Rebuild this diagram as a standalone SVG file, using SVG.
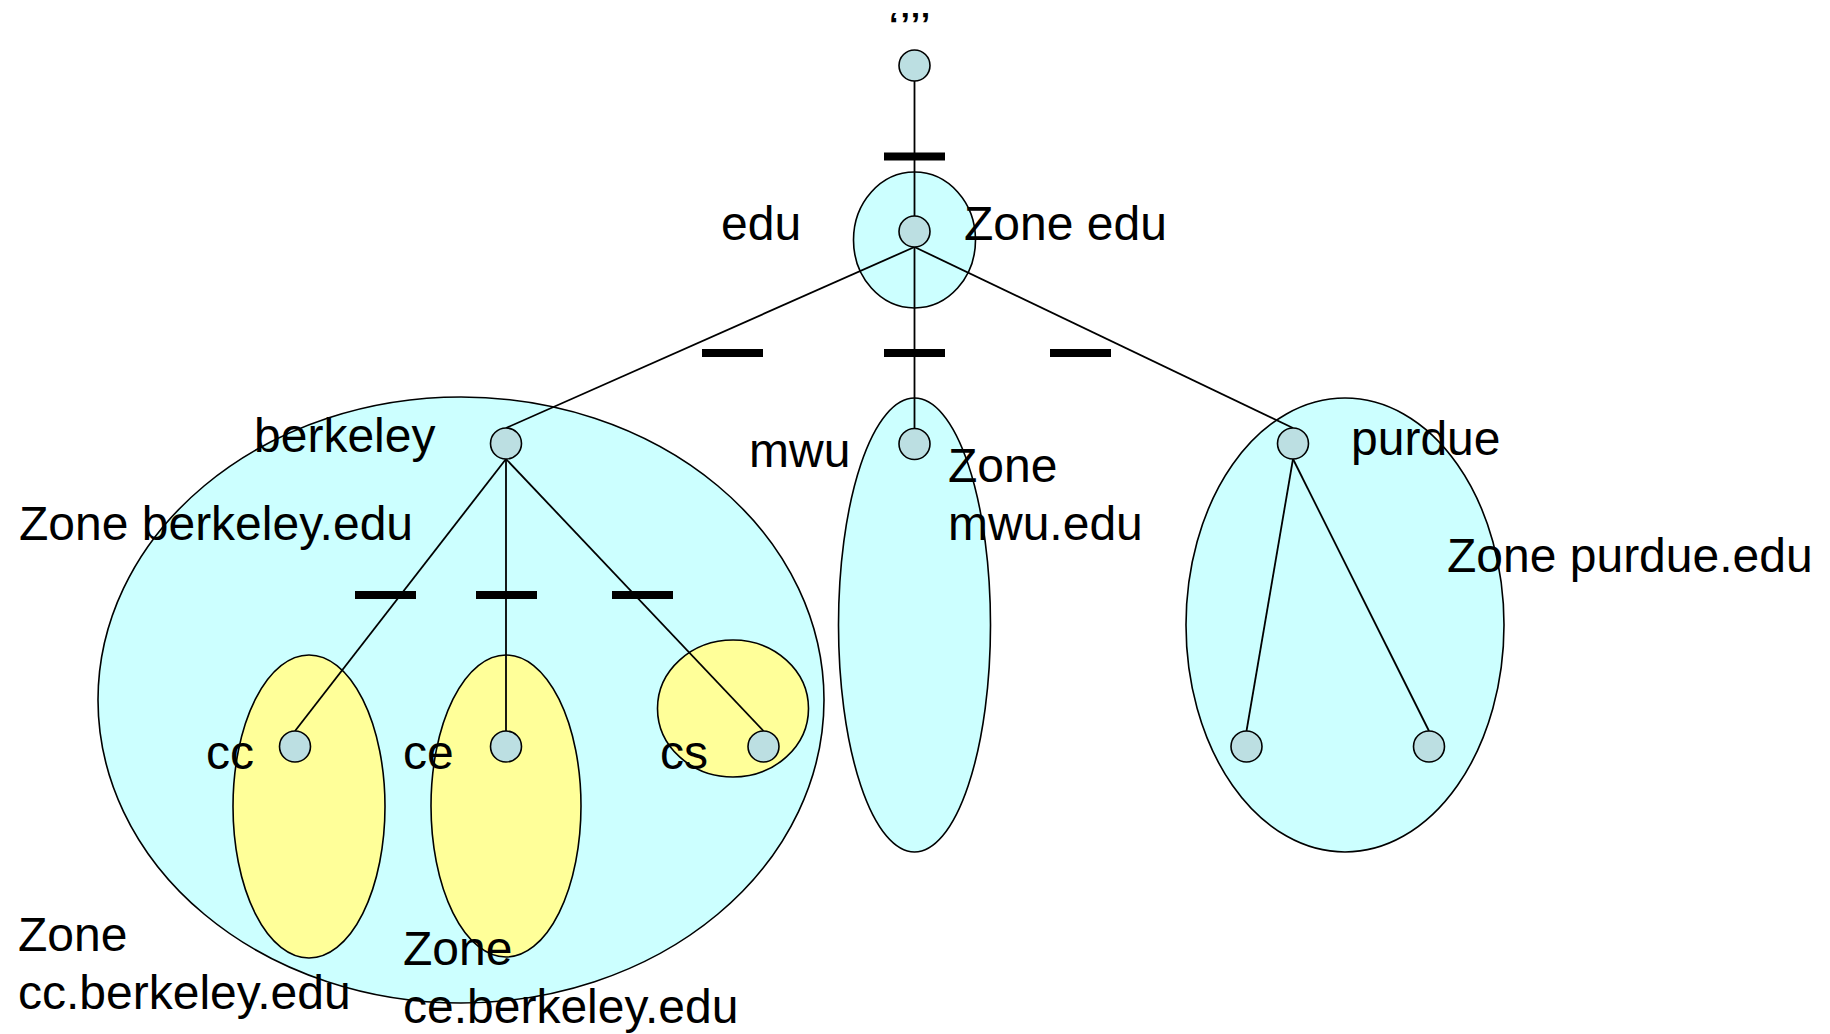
<svg xmlns="http://www.w3.org/2000/svg" width="1830" height="1034" viewBox="0 0 1830 1034">
  <style>
    .zone { fill: #CCFFFF; stroke: #000; stroke-width: 1.6; }
    .subzone { fill: #FFFF99; stroke: #000; stroke-width: 1.6; }
    .node { fill: #BCDFE2; stroke: #000; stroke-width: 1.6; }
    .edge { stroke: #000; stroke-width: 1.8; fill: none; }
    .cut { fill: #000; }
    text { font-family: "Liberation Sans", Arial, sans-serif; font-size: 48px; fill: #000; }
    .quote { font-size: 34px; font-weight: bold; letter-spacing: 2px; }
  </style>
  <rect width="1830" height="1034" fill="#fff"/>

  <!-- zones -->
  <g id="zone-berkeley"><ellipse class="zone" cx="461" cy="700" rx="363" ry="303"/></g>
  <g id="zone-cc"><ellipse class="subzone" cx="309" cy="806.5" rx="76" ry="151.5"/></g>
  <g id="zone-ce"><ellipse class="subzone" cx="506" cy="806" rx="75" ry="151"/></g>
  <g id="zone-cs"><ellipse class="subzone" cx="733" cy="708.5" rx="75.5" ry="68.5"/></g>
  <g id="zone-edu"><ellipse class="zone" cx="914.5" cy="240" rx="61" ry="68"/></g>
  <g id="zone-mwu"><ellipse class="zone" cx="914.5" cy="625" rx="76" ry="227"/></g>
  <g id="zone-purdue"><ellipse class="zone" cx="1345" cy="625" rx="159" ry="227"/></g>

  <!-- connectors -->
  <g id="connectors">
    <line class="edge" x1="914.5" y1="81" x2="914.5" y2="216"/>
    <line class="edge" x1="914.5" y1="247" x2="506" y2="428"/>
    <line class="edge" x1="914.5" y1="247" x2="914.5" y2="428"/>
    <line class="edge" x1="914.5" y1="247" x2="1293" y2="428"/>
    <line class="edge" x1="506" y1="459" x2="295" y2="731"/>
    <line class="edge" x1="506" y1="459" x2="506" y2="731"/>
    <line class="edge" x1="506" y1="459" x2="763.5" y2="731"/>
    <line class="edge" x1="1293" y1="459" x2="1246.5" y2="731"/>
    <line class="edge" x1="1293" y1="459" x2="1429" y2="731"/>
    <!-- zone cuts -->
    <rect class="cut" x="884" y="152.5" width="61" height="8"/>
    <rect class="cut" x="702" y="349" width="61" height="8"/>
    <rect class="cut" x="884" y="349" width="61" height="8"/>
    <rect class="cut" x="1050" y="349" width="61" height="8"/>
    <rect class="cut" x="355" y="591" width="61" height="8"/>
    <rect class="cut" x="476" y="591" width="61" height="8"/>
    <rect class="cut" x="612" y="591" width="61" height="8"/>
  </g>

  <!-- nodes -->
  <g id="node-root">
    <circle class="node" cx="914.5" cy="65.5" r="15.5"/>
    <text class="quote" x="889" y="36">‘’’’</text>
  </g>
  <g id="node-edu">
    <circle class="node" cx="914.5" cy="231.5" r="15.5"/>
    <text x="721" y="240">edu</text>
  </g>
  <g id="node-berkeley">
    <circle class="node" cx="506" cy="443.5" r="15.5"/>
    <text x="254" y="452">berkeley</text>
  </g>
  <g id="node-mwu">
    <circle class="node" cx="914.5" cy="444" r="15.5"/>
    <text x="749" y="466.5">mwu</text>
  </g>
  <g id="node-purdue">
    <circle class="node" cx="1293" cy="443.5" r="15.5"/>
    <text x="1351" y="455">purdue</text>
  </g>
  <g id="node-cc">
    <circle class="node" cx="295" cy="746.5" r="15.5"/>
    <text x="206" y="769">cc</text>
  </g>
  <g id="node-ce">
    <circle class="node" cx="506" cy="746.5" r="15.5"/>
    <text x="403" y="769">ce</text>
  </g>
  <g id="node-cs">
    <circle class="node" cx="763.5" cy="746.5" r="15.5"/>
    <text x="660" y="769">cs</text>
  </g>
  <g id="node-purdue-a"><circle class="node" cx="1246.5" cy="746.5" r="15.5"/></g>
  <g id="node-purdue-b"><circle class="node" cx="1429" cy="746.5" r="15.5"/></g>

  <!-- zone labels -->
  <g id="zone-labels">
    <text x="964" y="240">Zone edu</text>
    <text x="19" y="540">Zone berkeley.edu</text>
    <text><tspan x="948" y="482">Zone</tspan><tspan x="948" y="539.5">mwu.edu</tspan></text>
    <text x="1447" y="572">Zone purdue.edu</text>
    <text><tspan x="18" y="951">Zone</tspan><tspan x="18" y="1008.5">cc.berkeley.edu</tspan></text>
    <text><tspan x="403" y="965">Zone</tspan><tspan x="403" y="1022.5">ce.berkeley.edu</tspan></text>
  </g>
</svg>
